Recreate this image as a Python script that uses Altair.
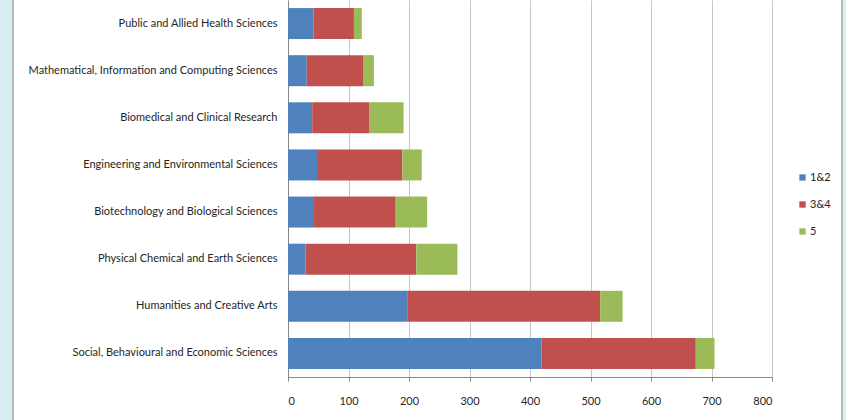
import altair as alt
import pandas as pd

categories = [
    "Public and Allied Health Sciences",
    "Mathematical, Information and Computing Sciences",
    "Biomedical and Clinical Research",
    "Engineering and Environmental Sciences",
    "Biotechnology and Biological Sciences",
    "Physical Chemical and Earth Sciences",
    "Humanities and Creative Arts",
    "Social, Behavioural and Economic Sciences",
]
series = ["1&2", "3&4", "5"]
v12 = [42, 31, 40, 48, 43, 29, 198, 419]
v34 = [67, 93, 94, 141, 135, 183, 318, 255]
v5 = [13, 18, 57, 32, 52, 68, 37, 31]
x_ticks = [0, 100, 200, 300, 400, 500, 600, 700, 800]
colors = ["#4F81BD", "#C0504D", "#9BBB59"]

rows = []
for i, c in enumerate(categories):
    for j, (s, vals) in enumerate(zip(series, [v12, v34, v5])):
        rows.append({"category": c, "series": s, "value": vals[i], "order": j})
df = pd.DataFrame(rows)

FONT = "Lato, sans-serif"

one = alt.Data(values=[{"a": 1}])
strip_left = alt.Chart(one).mark_rect(
    fill="#DBEEF3", stroke="#A6A6A6", strokeWidth=1.5
).encode(x=alt.value(-300), x2=alt.value(-275), y=alt.value(-10), y2=alt.value(440))
strip_right = alt.Chart(one).mark_rect(
    fill="#DBEEF3", stroke="#A6A6A6", strokeWidth=1.5
).encode(x=alt.value(554), x2=alt.value(600), y=alt.value(-10), y2=alt.value(440))

bars = alt.Chart(df).mark_bar(size=31).encode(
    y=alt.Y("category:N", sort=categories, title=None,
            axis=alt.Axis(labelFontSize=11, labelFont=FONT, labelColor="#262626",
                          labelPadding=11, ticks=False, domainColor="#888",
                          labelLimit=300)),
    x=alt.X("value:Q", stack="zero", title=None,
            scale=alt.Scale(domain=[0, 800], nice=False),
            axis=alt.Axis(values=x_ticks, grid=True, gridColor="#C6C6C6",
                          domainColor="#888", tickColor="#888", tickSize=4,
                          labelFontSize=11, labelFont=FONT, labelColor="#262626",
                          labelPadding=14)),
    color=alt.Color("series:N", scale=alt.Scale(domain=series, range=colors),
                    legend=alt.Legend(title=None, orient="none", legendX=509,
                                      legendY=172, symbolType="square",
                                      symbolSize=40, symbolStrokeWidth=0,
                                      labelFontSize=11, labelFont=FONT,
                                      labelColor="#262626", rowPadding=15,
                                      labelOffset=2)),
    order=alt.Order("order:Q"),
)

chart = alt.layer(bars, strip_left, strip_right).properties(
    width=484, height=377,
    background="white",
    padding={"left": 288, "top": 0, "right": 74, "bottom": 43},
    autosize=alt.AutoSizeParams(type="none"),
).configure_view(stroke=None, fill="white")

chart.save("out.html", embed_options={"renderer": "svg", "actions": False})
